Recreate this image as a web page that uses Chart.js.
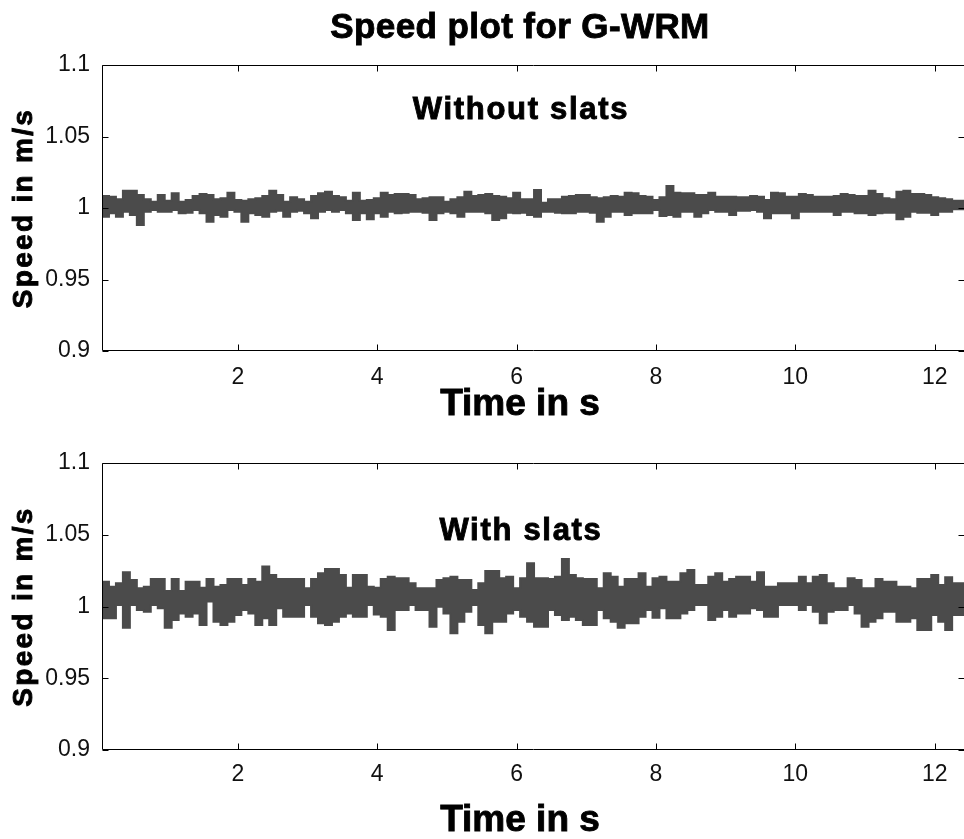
<!DOCTYPE html>
<html>
<head>
<meta charset="utf-8">
<title>Speed plot for G-WRM</title>
<script src="https://cdn.jsdelivr.net/npm/chart.js@4.4.0/dist/chart.umd.min.js"></script>
<style>
  html, body { margin: 0; padding: 0; background: #fff; }
  #fig { position: relative; width: 964px; height: 839px; overflow: hidden; }
  canvas { position: absolute; left: 0; }
</style>
</head>
<body>
<div id="fig">
  <canvas id="topPlot" width="964" height="420" style="top:0"></canvas>
  <canvas id="bottomPlot" width="964" height="419" style="top:420px"></canvas>
</div>
<script>
const figureTitle = "Speed plot for G-WRM";
const xTitle = "Time in s";
const yTitle = "Speed in m/s";
const topLabel = "Without slats";
const bottomLabel = "With slats";

// sample grid of the trace (s)
const timeStart = 0.05;
const timeStep = 0.1;

const xTicks = [2, 4, 6, 8, 10, 12];
const yTicks = [0.9, 0.95, 1, 1.05, 1.1];
const yTickLabels = ["0.9", "0.95", "1", "1.05", "1.1"];

// thick noisy trace, read as upper / lower edge for each sample
const withoutSlatsHigh = [
  1.0103, 1.0084, 1.0079, 1.0061, 1.0121, 1.0121, 1.0091, 1.0061, 1.0044, 1.0091,
  1.0051, 1.0103, 1.0044, 1.0056, 1.0084, 1.0098, 1.0091, 1.0061, 1.0068, 1.0107,
  1.0056, 1.0051, 1.0061, 1.0068, 1.0084, 1.0121, 1.0091, 1.0044, 1.0075, 1.0061,
  1.0044, 1.0084, 1.0103, 1.0114, 1.0084, 1.0075, 1.0051, 1.0107, 1.0051, 1.0056,
  1.0068, 1.0107, 1.0091, 1.0098, 1.0098, 1.0091, 1.0061, 1.0068, 1.0075, 1.0075,
  1.0044, 1.0061, 1.0075, 1.0114, 1.0084, 1.0091, 1.0098, 1.0084, 1.0079, 1.0068,
  1.0107, 1.0061, 1.0061, 1.0126, 1.0037, 1.0061, 1.0061, 1.0079, 1.0084, 1.0091,
  1.0091, 1.0075, 1.0068, 1.0075, 1.0084, 1.0079, 1.0107, 1.0103, 1.0084, 1.0079,
  1.0056, 1.0075, 1.0154, 1.0107, 1.0103, 1.0103, 1.0091, 1.0091, 1.0107, 1.0079,
  1.0079, 1.0079, 1.0075, 1.0075, 1.0084, 1.0079, 1.0056, 1.0107, 1.0103, 1.0079,
  1.0079, 1.0098, 1.0091, 1.0079, 1.0079, 1.0079, 1.0084, 1.0098, 1.0091, 1.0084,
  1.0084, 1.0121, 1.0098, 1.0068, 1.0061, 1.0114, 1.0121, 1.0098, 1.0098, 1.0091,
  1.0075, 1.0068, 1.0061, 1.0051, 1.0051
];
const withoutSlatsLow = [
  0.9916, 0.9939, 0.9963, 0.9939, 0.9974, 0.9951, 0.9881, 0.9974, 0.9986, 0.9974,
  0.9974, 0.9986, 0.9963, 0.9967, 0.9986, 0.9963, 0.9904, 0.9951, 0.9939, 0.9986,
  0.9974, 0.9904, 0.9963, 0.9951, 0.9939, 0.9974, 0.9981, 0.9939, 0.9974, 0.9981,
  0.9963, 0.9928, 0.9974, 0.9986, 0.9974, 0.9986, 0.9963, 0.9916, 0.9963, 0.9921,
  0.9963, 0.9939, 0.9974, 0.9963, 0.9967, 0.9974, 0.9974, 0.9967, 0.9916, 0.9963,
  0.9974, 0.9963, 0.9939, 0.9974, 0.9974, 0.9974, 0.9963, 0.9916, 0.9928, 0.9967,
  0.9963, 0.9967, 0.9951, 0.9939, 0.9974, 0.9974, 0.9967, 0.9963, 0.9963, 0.9974,
  0.9974, 0.9967, 0.9904, 0.9939, 0.9974, 0.9974, 0.9951, 0.9963, 0.9963, 0.9963,
  0.9986, 0.9944, 0.9951, 0.9939, 0.9974, 0.9974, 0.9939, 0.9963, 0.9986, 0.9974,
  0.9974, 0.9951, 0.9981, 0.9981, 0.9986, 0.9974, 0.9928, 0.9963, 0.9963, 0.9963,
  0.9928, 0.9974, 0.9974, 0.9974, 0.9974, 0.9974, 0.9951, 0.9974, 0.9974, 0.9963,
  0.9963, 0.9951, 0.9963, 0.9967, 0.9967, 0.9921, 0.9939, 0.9974, 0.9967, 0.9967,
  0.9951, 0.9974, 0.9974, 0.9991, 0.9991
];
const withSlatsHigh = [
  1.0192, 1.0173, 1.0138, 1.0162, 1.0238, 1.0185, 1.0127, 1.0138, 1.0192, 1.0192,
  1.0108, 1.0192, 1.0108, 1.0173, 1.0173, 1.0131, 1.0192, 1.0138, 1.0150, 1.0192,
  1.0192, 1.0150, 1.0192, 1.0173, 1.0278, 1.0220, 1.0192, 1.0192, 1.0192, 1.0192,
  1.0127, 1.0192, 1.0231, 1.0261, 1.0261, 1.0220, 1.0131, 1.0220, 1.0220, 1.0138,
  1.0131, 1.0192, 1.0208, 1.0196, 1.0196, 1.0162, 1.0127, 1.0127, 1.0127, 1.0185,
  1.0196, 1.0208, 1.0185, 1.0185, 1.0115, 1.0162, 1.0247, 1.0247, 1.0196, 1.0208,
  1.0127, 1.0196, 1.0301, 1.0196, 1.0196, 1.0192, 1.0208, 1.0331, 1.0220, 1.0196,
  1.0192, 1.0192, 1.0127, 1.0231, 1.0208, 1.0138, 1.0192, 1.0192, 1.0231, 1.0138,
  1.0196, 1.0208, 1.0173, 1.0173, 1.0231, 1.0254, 1.0150, 1.0150, 1.0208, 1.0231,
  1.0173, 1.0192, 1.0208, 1.0208, 1.0173, 1.0238, 1.0138, 1.0138, 1.0162, 1.0162,
  1.0162, 1.0208, 1.0162, 1.0208, 1.0220, 1.0162, 1.0127, 1.0127, 1.0196, 1.0185,
  1.0127, 1.0127, 1.0192, 1.0173, 1.0173, 1.0138, 1.0138, 1.0127, 1.0192, 1.0192,
  1.0220, 1.0150, 1.0203, 1.0162, 1.0162
];
const withSlatsLow = [
  0.9929, 0.9918, 0.9918, 1.0010, 0.9852, 1.0010, 0.9976, 0.9964, 1.0010, 0.9987,
  0.9852, 0.9906, 0.9952, 0.9929, 0.9952, 0.9871, 1.0034, 0.9894, 0.9871, 0.9894,
  0.9941, 0.9976, 0.9952, 0.9871, 0.9918, 0.9871, 0.9987, 0.9929, 0.9929, 0.9929,
  1.0010, 0.9929, 0.9883, 0.9871, 0.9894, 0.9929, 0.9952, 0.9929, 0.9929, 1.0010,
  0.9945, 0.9929, 0.9836, 0.9976, 0.9976, 1.0010, 0.9976, 0.9976, 0.9859, 0.9999,
  0.9952, 0.9813, 0.9894, 0.9964, 1.0010, 0.9871, 0.9813, 0.9894, 0.9894, 0.9952,
  0.9976, 0.9929, 0.9894, 0.9859, 0.9859, 0.9976, 0.9941, 0.9906, 0.9929, 0.9906,
  0.9871, 0.9871, 0.9976, 0.9918, 0.9894, 0.9852, 0.9883, 0.9883, 0.9929, 0.9976,
  0.9922, 0.9987, 0.9918, 0.9918, 0.9952, 0.9976, 1.0010, 1.0010, 0.9906, 0.9929,
  0.9976, 0.9929, 0.9952, 0.9952, 0.9987, 0.9976, 0.9929, 0.9929, 1.0010, 1.0010,
  1.0010, 0.9976, 1.0010, 0.9964, 0.9883, 0.9964, 0.9976, 0.9976, 1.0010, 0.9952,
  0.9859, 0.9894, 0.9918, 0.9964, 0.9964, 0.9894, 0.9894, 0.9918, 0.9836, 0.9836,
  0.9941, 0.9894, 0.9836, 0.9941, 0.9941
];

const traceColor = '#4b4b4b';
const tickFont = { family: "'Liberation Sans', Arial, sans-serif", size: 23 };

function points(values) {
  return values.map((v, i) => ({ x: +(timeStart + i * timeStep).toFixed(2), y: v }));
}

// heavy bold text, a little stroke to get the chunky matlab look
function drawText(ctx, text, x, y, size, spacing, rotate) {
  ctx.save();
  ctx.translate(x, y);
  if (rotate) ctx.rotate(-Math.PI / 2);
  ctx.font = "bold " + size + "px 'Liberation Sans', Arial, sans-serif";
  ctx.letterSpacing = spacing + 'px';
  ctx.fillStyle = '#000';
  ctx.strokeStyle = '#000';
  ctx.lineWidth = 0.9;
  ctx.textAlign = 'center';
  ctx.textBaseline = 'alphabetic';
  ctx.fillText(text, 0, 0);
  ctx.strokeText(text, 0, 0);
  ctx.restore();
}

// box with inward ticks like the matlab axes, plus the texts
const framePlugin = {
  id: 'frame',
  afterDraw(chart, args, opts) {
    const { ctx, chartArea: a, scales } = chart;
    const L = a.left + 0.5, R = a.right - 0.5, T = a.top + 0.5, B = a.bottom - 0.5;
    ctx.save();
    ctx.strokeStyle = '#000';
    ctx.lineWidth = 1;
    ctx.beginPath();
    // left, top, bottom edges (right edge falls just outside the window)
    ctx.moveTo(R + 1, T); ctx.lineTo(L, T); ctx.lineTo(L, B); ctx.lineTo(R + 1, B);
    xTicks.forEach(v => {
      const px = Math.round(scales.x.getPixelForValue(v)) + 0.5;
      ctx.moveTo(px, B); ctx.lineTo(px, B - 6);
      ctx.moveTo(px, T); ctx.lineTo(px, T + 6);
    });
    yTicks.forEach(v => {
      const py = Math.round(scales.y.getPixelForValue(v)) + 0.5;
      ctx.moveTo(L, py); ctx.lineTo(L + 6, py);
      ctx.moveTo(R + 1, py); ctx.lineTo(R - 5, py);
    });
    ctx.stroke();
    ctx.restore();

    if (opts.title) drawText(ctx, opts.title, 520, opts.titleY, 35, 0.4, false);
    drawText(ctx, opts.label, 521, opts.labelY, 31, 1.7, false);
    drawText(ctx, xTitle, 520, opts.xTitleY, 37, 0, false);
    drawText(ctx, yTitle, 32, (a.top + a.bottom) / 2, 28, 2.3, true);
  }
};

function makePlot(id, high, low, frameOpts, topPad, xAxisHeight, xPad) {
  return new Chart(document.getElementById(id), {
    type: 'line',
    data: {
      datasets: [
        { label: 'low', data: points(low), stepped: 'after', borderColor: traceColor,
          borderWidth: 2, pointRadius: 0, fill: false },
        { label: 'high', data: points(high), stepped: 'after', borderColor: traceColor,
          backgroundColor: traceColor, borderWidth: 2, pointRadius: 0, fill: '-1' }
      ]
    },
    options: {
      responsive: false,
      animation: false,
      layout: { padding: { top: topPad, left: 0, right: 0, bottom: 0 } },
      plugins: { legend: { display: false }, tooltip: { enabled: false }, frame: frameOpts },
      scales: {
        x: {
          type: 'linear', min: 0.05, max: 12.42,
          afterBuildTicks: s => { s.ticks = xTicks.map(v => ({ value: v })); },
          afterFit: s => { s.height = xAxisHeight; },
          ticks: { font: tickFont, color: '#111', padding: xPad, maxRotation: 0, autoSkip: false,
                   callback: v => String(v) },
          grid: { display: false, drawTicks: false },
          border: { display: false }
        },
        y: {
          min: 0.9, max: 1.1,
          afterBuildTicks: s => { s.ticks = yTicks.map(v => ({ value: v })); },
          afterFit: s => { s.width = 102; },
          ticks: { font: tickFont, color: '#111', padding: 12, autoSkip: false,
                   callback: (v, i) => yTickLabels[i] },
          grid: { display: false, drawTicks: false },
          border: { display: false }
        }
      }
    },
    plugins: [framePlugin]
  });
}

makePlot('topPlot', withoutSlatsHigh, withoutSlatsLow,
  { title: figureTitle, titleY: 38, label: topLabel, labelY: 119, xTitleY: 415 }, 65, 69, 13);
makePlot('bottomPlot', withSlatsHigh, withSlatsLow,
  { label: bottomLabel, labelY: 120, xTitleY: 411 }, 43, 89, 11);
</script>
</body>
</html>
